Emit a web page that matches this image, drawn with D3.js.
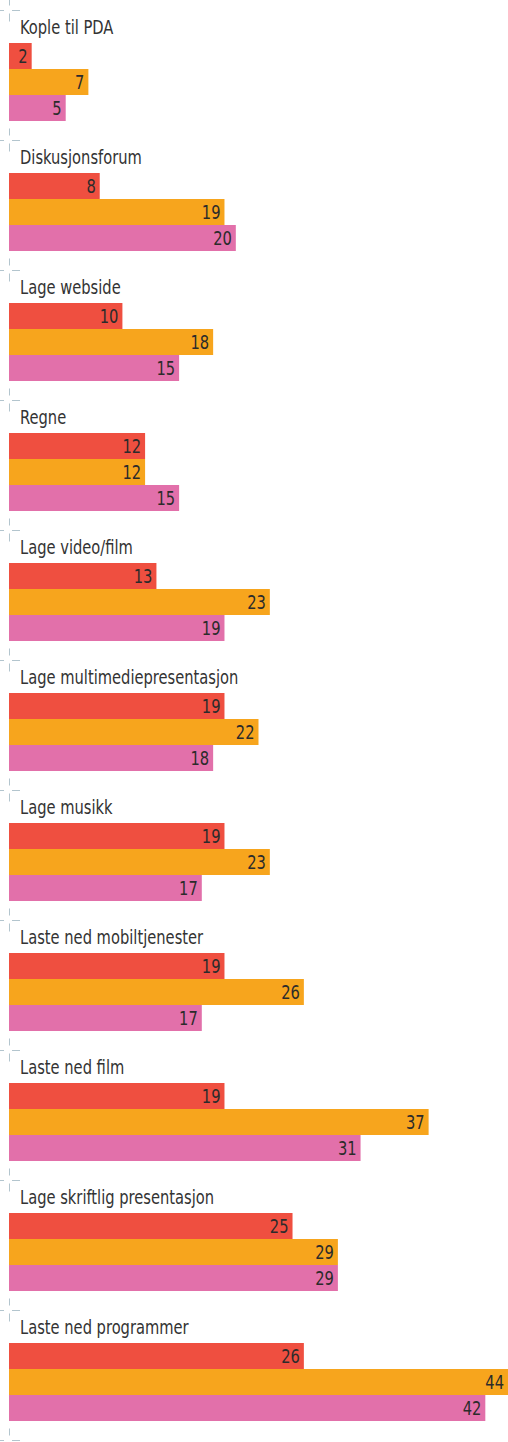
<!DOCTYPE html>
<html>
<head>
<meta charset="utf-8">
<script src="https://cdn.jsdelivr.net/npm/d3@7"></script>
<style>
  html, body { margin: 0; padding: 0; background: #fff; }
  svg { display: block; }
  .cat { font-family: "DejaVu Sans Condensed", "Liberation Sans Narrow", sans-serif; font-size: 19px; fill: #333; }
  .val { font-family: "DejaVu Sans Condensed", "Liberation Sans Narrow", sans-serif; font-size: 19px; fill: #2b2b2b; }
</style>
</head>
<body>
<svg id="chart" width="508" height="1442"></svg>
<script>
// Activities, top to bottom
const categories = [
  "Kople til PDA",
  "Diskusjonsforum",
  "Lage webside",
  "Regne",
  "Lage video/film",
  "Lage multimediepresentasjon",
  "Lage musikk",
  "Laste ned mobiltjenester",
  "Laste ned film",
  "Lage skriftlig presentasjon",
  "Laste ned programmer"
];

// Three series per activity (percent)
const seriesRed    = [2, 8, 10, 12, 13, 19, 19, 19, 19, 25, 26];
const seriesOrange = [7, 19, 18, 12, 23, 22, 23, 26, 37, 29, 44];
const seriesPink   = [5, 20, 15, 15, 19, 18, 17, 17, 31, 29, 42];

const seriesKeys = ["red", "orange", "pink"];
const seriesColors = ["#ef4f40", "#f7a51d", "#e270aa"];
const seriesValues = [seriesRed, seriesOrange, seriesPink];

const xMax = 44;

// Narrow the type horizontally for a condensed look
const squeeze = 0.86;

const svg = d3.select("#chart");
const W = 508, H = 1442;

const x = d3.scaleLinear().domain([0, xMax]).range([9, W]);

// One band per activity; the band boundary carries the small crosshair mark
const band = d3.scaleBand().domain(categories).range([10, 1440]).padding(0);

// Bars sit in the lower part of each band
const inner = d3.scaleBand().domain(seriesKeys).range([33, 111]).padding(0);

// Crosshair marks at every band boundary
const bounds = categories.map(c => band(c)).concat([band.range()[1]]);
const markColor = "#b3c5ce";
const marks = svg.append("g").attr("class", "marks")
  .attr("stroke", markColor).attr("stroke-width", 1).attr("fill", "none");
bounds.forEach(y => {
  const yy = Math.round(y) + 0.5;
  marks.append("line").attr("x1", 9.5).attr("x2", 9.5).attr("y1", yy - 12).attr("y2", yy - 5);
  marks.append("line").attr("x1", 9.5).attr("x2", 9.5).attr("y1", yy + 3).attr("y2", yy + 11);
  marks.append("line").attr("x1", 0).attr("x2", 4).attr("y1", yy).attr("y2", yy);
  marks.append("line").attr("x1", 12).attr("x2", 20).attr("y1", yy).attr("y2", yy);
});

const groups = svg.append("g").selectAll("g.group")
  .data(categories)
  .join("g")
  .attr("class", "group")
  .attr("transform", d => `translate(0,${band(d)})`);

groups.append("text")
  .attr("class", "cat")
  .attr("transform", `translate(20,24) scale(${squeeze},1)`)
  .text(d => d);

groups.each(function(cat, i) {
  const g = d3.select(this);
  const rows = seriesKeys.map((k, j) => ({ key: k, value: seriesValues[j][i], color: seriesColors[j] }));
  g.selectAll("rect")
    .data(rows)
    .join("rect")
    .attr("x", x(0))
    .attr("y", d => inner(d.key))
    .attr("width", d => x(d.value) - x(0))
    .attr("height", inner.bandwidth())
    .attr("fill", d => d.color);
  g.selectAll("text.val")
    .data(rows)
    .join("text")
    .attr("class", "val")
    .attr("transform", d => `translate(${x(d.value) - 4},${inner(d.key) + 19.5}) scale(${squeeze},1)`)
    .attr("text-anchor", "end")
    .text(d => d.value);
});
</script>
</body>
</html>
